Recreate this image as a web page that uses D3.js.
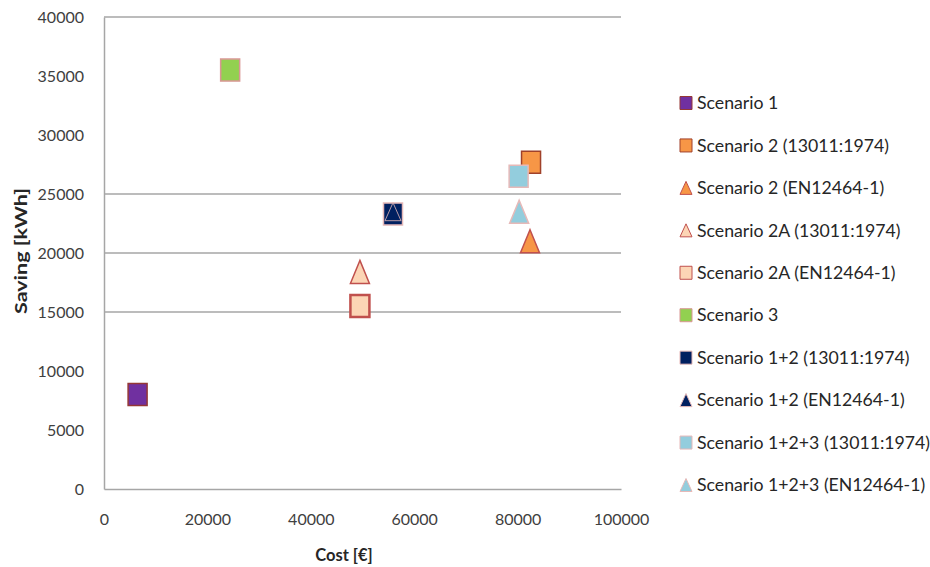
<!DOCTYPE html>
<html>
<head>
<meta charset="utf-8">
<script src="https://cdn.jsdelivr.net/npm/d3@7"></script>
<style>
  html, body { margin: 0; padding: 0; background: #ffffff; }
  svg { display: block; font-family: Lato, "Open Sans", sans-serif; }
</style>
</head>
<body>
<svg id="chart" width="930" height="567"></svg>
<script>
// Scenario names, in legend order
const seriesNames = [
  "Scenario 1",
  "Scenario 2 (13011:1974)",
  "Scenario 2 (EN12464-1)",
  "Scenario 2A (13011:1974)",
  "Scenario 2A (EN12464-1)",
  "Scenario 3",
  "Scenario 1+2 (13011:1974)",
  "Scenario 1+2 (EN12464-1)",
  "Scenario 1+2+3 (13011:1974)",
  "Scenario 1+2+3 (EN12464-1)"
];
// Cost [€] of each scenario
const costs = [6500, 82600, 82400, 49500, 49500, 24400, 55900, 55900, 80200, 80300];
// Saving [kWh] of each scenario
const savings = [8000, 27700, 21000, 18400, 15500, 35500, 23300, 23500, 26500, 23500];

// Axis ticks and the horizontal gridlines that are drawn
const xTicks = [0, 20000, 40000, 60000, 80000, 100000];
const yTicks = [0, 5000, 10000, 15000, 20000, 25000, 30000, 35000, 40000];
const gridValues = [15000, 20000, 25000, 40000];

// Marker styling per series
const shapes  = ["square", "square", "triangle", "triangle", "square", "square", "square", "triangle", "square", "triangle"];
const fills   = ["#7030a0", "#f79646", "#f79646", "#fcd5b5", "#fcd5b5", "#92d050", "#002060", "#002060", "#93cddd", "#93cddd"];
const strokes = ["#953735", "#a0412a", "#c0504d", "#c0504d", "#c0504d", "#d99694", "#e6b9b8", "#e6b9b8", "#e6b9b8", "#e6b9b8"];
const strokeW = [1.5, 1.5, 1.5, 1.5, 2.5, 1.5, 1.5, 0.8, 1.5, 1.5];

const svg = d3.select("#chart");
const plot = { left: 104, right: 621, top: 17, bottom: 489 };

const x = d3.scaleLinear().domain([0, 100000]).range([plot.left, plot.right]);
const y = d3.scaleLinear().domain([0, 40000]).range([plot.bottom, plot.top]);

// Gridlines
svg.append("g").selectAll("line").data(gridValues).join("line")
  .attr("x1", plot.left).attr("x2", plot.right)
  .attr("y1", d => y(d)).attr("y2", d => y(d))
  .attr("stroke", "#a6a6a6").attr("stroke-width", 1.5);

// Axes
const yAxis = d3.axisLeft(y).tickValues(yTicks).tickSize(0).tickPadding(20).tickFormat(d3.format("d"));
const xAxis = d3.axisBottom(x).tickValues(xTicks).tickSize(0).tickPadding(25).tickFormat(d3.format("d"));

const gy = svg.append("g").attr("transform", `translate(${plot.left},0)`).call(yAxis);
const gx = svg.append("g").attr("transform", `translate(0,${plot.bottom})`).call(xAxis);
[gx, gy].forEach(g => {
  g.select(".domain").attr("stroke", "#a6a6a6").attr("stroke-width", 1.5);
  g.selectAll("text").attr("font-size", 16).attr("fill", "#404040")
    .attr("font-family", "Lato, sans-serif");
});

// Axis titles
svg.append("text")
  .attr("x", 344).attr("y", 561)
  .attr("text-anchor", "middle").attr("font-size", 16.5).attr("font-weight", "bold")
  .attr("fill", "#262626").text("Cost [€]");
svg.append("text")
  .attr("transform", `translate(27,251) rotate(-90)`)
  .attr("text-anchor", "middle").attr("font-size", 17).attr("font-weight", "bold")
  .attr("textLength", 126).attr("lengthAdjust", "spacingAndGlyphs")
  .attr("fill", "#262626").text("Saving [kWh]");

// Marker path generator (centered on 0,0)
function markerPath(shape, w, h) {
  if (shape === "square") {
    return `M${-w/2},${-h/2}H${w/2}V${h/2}H${-w/2}Z`;
  }
  return `M0,${-h/2}L${w/2},${h/2}L${-w/2},${h/2}Z`;
}

const idx = d3.range(seriesNames.length);

// Data markers
svg.append("g").selectAll("path").data(idx).join("path")
  .attr("transform", i => `translate(${x(costs[i])},${y(savings[i])})`)
  .attr("d", i => {
    if (i === 7) return markerPath("triangle", 16, 18);
    return shapes[i] === "square" ? markerPath("square", 19, 22) : markerPath("triangle", 19, 23);
  })
  .attr("fill", i => fills[i])
  .attr("stroke", i => strokes[i])
  .attr("stroke-width", i => strokeW[i])
  .attr("stroke-linejoin", "miter");

// Legend
const legend = svg.append("g");
const rowY = d3.scaleLinear().domain([0, seriesNames.length - 1]).range([103, 485]);
const items = legend.selectAll("g").data(idx).join("g")
  .attr("transform", i => `translate(0,${rowY(i)})`);
items.append("path")
  .attr("transform", "translate(686,0)")
  .attr("d", i => shapes[i] === "square" ? markerPath("square", 12, 13) : markerPath("triangle", 12, 13))
  .attr("fill", i => fills[i])
  .attr("stroke", i => strokes[i])
  .attr("stroke-width", 1);
items.append("text")
  .attr("x", 697).attr("y", 0).attr("dy", "0.35em")
  .attr("font-size", 17.7).attr("fill", "#262626")
  .text(i => seriesNames[i]);
</script>
</body>
</html>
